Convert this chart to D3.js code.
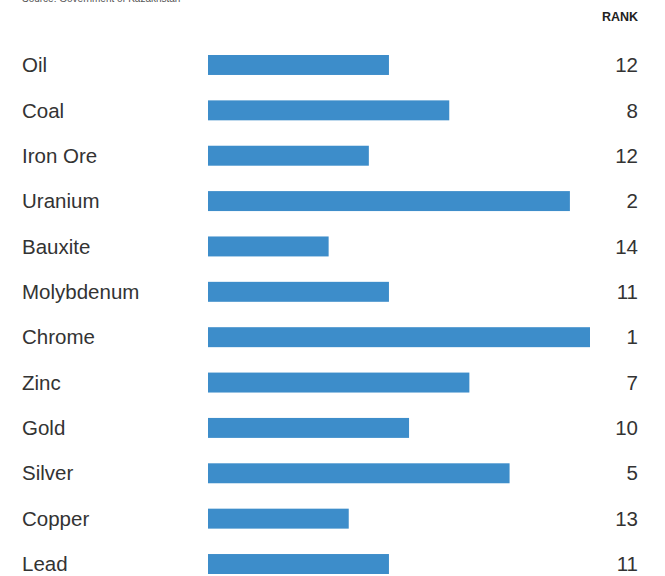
<!DOCTYPE html>
<html>
<head>
<meta charset="utf-8">
<script src="https://cdn.jsdelivr.net/npm/d3@7"></script>
<style>
  html, body { margin: 0; padding: 0; background: #fff; }
  svg { display: block; }
</style>
</head>
<body>
<svg id="chart" width="665" height="576"></svg>
<script>
// Kazakhstan's mineral reserves: bar length and world rank per resource
const minerals = ["Oil", "Coal", "Iron Ore", "Uranium", "Bauxite", "Molybdenum",
                  "Chrome", "Zinc", "Gold", "Silver", "Copper", "Lead"];
const scores = [9, 12, 8, 18, 6, 9, 19, 13, 10, 15, 7, 9];
const ranks = [12, 8, 12, 2, 14, 11, 1, 7, 10, 5, 13, 11];

const svg = d3.select("#chart");
const font = "'Liberation Sans', Arial, Helvetica, sans-serif";

const x = d3.scaleLinear().domain([0, 19]).range([208, 590]);
const y = d3.scaleBand().domain(minerals).range([42.3, 586.7]).paddingInner(0.56).paddingOuter(0.28);

// source note, sitting right at the top edge
svg.append("text")
  .attr("x", 22).attr("y", 2)
  .attr("font-family", font).attr("font-size", 10).attr("fill", "#555")
  .text("Source: Government of Kazakhstan");

svg.append("text")
  .attr("x", 638).attr("y", 21)
  .attr("text-anchor", "end")
  .attr("font-family", font).attr("font-size", 12.5).attr("font-weight", "bold").attr("fill", "#222")
  .text("RANK");

const rows = svg.selectAll("g.row")
  .data(minerals.map((m, i) => ({ name: m, score: scores[i], rank: ranks[i] })))
  .join("g").attr("class", "row");

rows.append("rect")
  .attr("x", x(0))
  .attr("y", d => y(d.name))
  .attr("width", d => x(d.score) - x(0))
  .attr("height", y.bandwidth())
  .attr("fill", "#3d8dca");

rows.append("text")
  .attr("x", 22)
  .attr("y", d => y(d.name) + y.bandwidth() / 2)
  .attr("dy", "0.35em")
  .attr("font-family", font).attr("font-size", 20.5).attr("fill", "#333")
  .text(d => d.name);

rows.append("text")
  .attr("x", 638)
  .attr("y", d => y(d.name) + y.bandwidth() / 2)
  .attr("dy", "0.35em")
  .attr("text-anchor", "end")
  .attr("font-family", font).attr("font-size", 20.5).attr("fill", "#333")
  .text(d => d.rank);
</script>
</body>
</html>
